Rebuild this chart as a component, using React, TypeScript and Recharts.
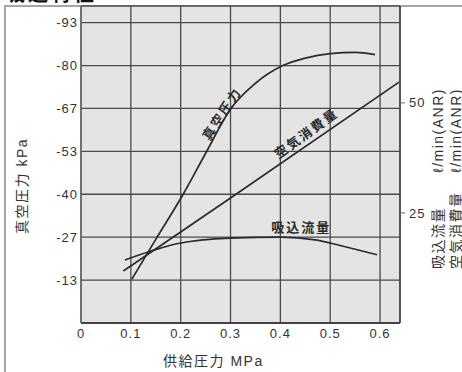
import { LineChart, Line, XAxis, YAxis, CartesianGrid, ReferenceDot } from 'recharts';

const FONT = "'Liberation Sans', 'Noto Sans CJK JP', sans-serif";
const INK = '#2a2a2a';

// axis ticks
const X_TICKS = [0, 0.1, 0.2, 0.3, 0.4, 0.5, 0.6];
const LEFT_TICKS = [13.33, 26.67, 40, 53.33, 66.67, 80, 93.33];
const LEFT_TICK_LABELS = ['-13', '-27', '-40', '-53', '-67', '-80', '-93'];
const RIGHT_TICKS = [25, 50];

// 真空圧力 (kPa, left axis)
const VACUUM_P = [0.102, 0.15, 0.205, 0.252, 0.3, 0.35, 0.405, 0.45, 0.5, 0.55, 0.59];
const VACUUM_KPA = [13.6, 26, 40, 53.3, 66.5, 74.5, 80, 82.3, 83.7, 84.1, 83.4];

// 空気消費量 (ℓ/min(ANR), right axis)
const AIR_P = [0.085, 0.3, 0.638];
const AIR_FLOW = [11.8, 28.4, 54.7];

// 吸込流量 (ℓ/min(ANR), right axis)
const SUCTION_P = [0.088, 0.142, 0.192, 0.299, 0.4, 0.47, 0.52, 0.566, 0.594];
const SUCTION_FLOW = [14.3, 16.4, 18.0, 19.3, 19.5, 18.9, 17.6, 16.3, 15.5];

const zip = (xs: number[], ys: number[]) => xs.map((p, i) => ({ p, v: ys[i] }));

const vacuumData = zip(VACUUM_P, VACUUM_KPA);
const airData = zip(AIR_P, AIR_FLOW);
const suctionData = zip(SUCTION_P, SUCTION_FLOW);

const tickStyle = { fontSize: 13, fill: '#333', fontFamily: FONT, letterSpacing: 1 };

// text drawn along a curve, anchored at a data point
const curveLabel = (text: string, angle: number) => (props: any) => (
  <text
    x={props.cx}
    y={props.cy}
    transform={`rotate(${angle} ${props.cx} ${props.cy})`}
    textAnchor="middle"
    dominantBaseline="central"
    fontSize={13}
    letterSpacing={2}
    fontWeight="bold"
    fill={INK}
    fontFamily={FONT}
  >
    {text}
  </text>
);

export default function App() {
  return (
    <div style={{ position: 'absolute', left: 0, top: 0, width: 462, height: 372, background: '#fff', overflow: 'hidden' }}>
      {/* outer frame */}
      <div style={{ position: 'absolute', left: 4, top: 5, width: 470, height: 400, borderLeft: '2px solid #a5a5a5', borderTop: '2px solid #a5a5a5' }} />

      <LineChart width={462} height={372} margin={{ top: 6, right: 0, left: 0, bottom: 0 }} style={{ position: 'absolute', left: 0, top: 0 }}>
        <CartesianGrid fill="#e4e4e4" stroke="#4a4a4a" strokeWidth={1.3} />
        <XAxis
          dataKey="p"
          type="number"
          domain={[0, 0.64]}
          ticks={X_TICKS}
          allowDataOverflow
          tickFormatter={(v: number) => (v === 0 ? '0' : v.toFixed(1))}
          tick={tickStyle}
          tickLine={false}
          tickSize={0}
          tickMargin={6}
          height={49}
          axisLine={{ stroke: '#333', strokeWidth: 1.5 }}
        />
        <YAxis
          type="number"
          domain={[0, 98.5]}
          ticks={LEFT_TICKS}
          allowDataOverflow
          tickFormatter={(v: number, i: number) => LEFT_TICK_LABELS[i]}
          tick={tickStyle}
          tickLine={false}
          tickSize={0}
          tickMargin={3}
          width={81}
          axisLine={{ stroke: '#666', strokeWidth: 1.3 }}
        />
        <YAxis
          yAxisId="right"
          orientation="right"
          type="number"
          domain={[0, 72]}
          ticks={RIGHT_TICKS}
          allowDataOverflow
          tick={tickStyle}
          tickLine={{ stroke: '#666' }}
          tickSize={5}
          tickMargin={4}
          width={62}
          axisLine={{ stroke: '#444', strokeWidth: 1.5 }}
        />

        <Line data={vacuumData} dataKey="v" type="monotone" stroke={INK} strokeWidth={1.7} dot={false} isAnimationActive={false} />
        <Line data={airData} dataKey="v" yAxisId="right" type="linear" stroke={INK} strokeWidth={1.7} dot={false} isAnimationActive={false} />
        <Line data={suctionData} dataKey="v" yAxisId="right" type="monotone" stroke={INK} strokeWidth={1.7} dot={false} isAnimationActive={false} />

        <ReferenceDot x={0.283} y={65} r={0} shape={curveLabel('真空圧力', -57)} />
        <ReferenceDot x={0.452} y={43} yAxisId="right" r={0} shape={curveLabel('空気消費量', -36)} />
        <ReferenceDot x={0.442} y={21.8} yAxisId="right" r={0} shape={curveLabel('吸込流量', 0)} />
      </LineChart>

      {/* titles */}
      <svg width={462} height={372} style={{ position: 'absolute', left: 0, top: 0, pointerEvents: 'none' }}>
        <text x={5} y={0.5} fontSize={20} fontWeight="bold" letterSpacing={3} fill="#111" fontFamily={FONT}>吸込特性</text>
        <text x={22} y={186} transform="rotate(-90 22 186)" textAnchor="middle" dominantBaseline="central" fontSize={14} letterSpacing={1.5} fill="#333" fontFamily={FONT}>
          真空圧力 kPa
        </text>
        <text x={163} y={366} fontSize={14} letterSpacing={1.5} fill="#333" fontFamily={FONT}>供給圧力 MPa</text>

        <text x={438} y={269} transform="rotate(-90 438 269)" textAnchor="start" dominantBaseline="central" fontSize={14} letterSpacing={1.5} fill="#333" fontFamily={FONT}>吸込流量</text>
        <text x={438} y={88} transform="rotate(-90 438 88)" textAnchor="end" dominantBaseline="central" fontSize={14} letterSpacing={1.5} fill="#333" fontFamily={FONT}>ℓ/min(ANR)</text>
        <text x={456} y={269} transform="rotate(-90 456 269)" textAnchor="start" dominantBaseline="central" fontSize={14} letterSpacing={1.5} fill="#333" fontFamily={FONT}>空気消費量</text>
        <text x={456} y={88} transform="rotate(-90 456 88)" textAnchor="end" dominantBaseline="central" fontSize={14} letterSpacing={1.5} fill="#333" fontFamily={FONT}>ℓ/min(ANR)</text>
      </svg>
    </div>
  );
}
